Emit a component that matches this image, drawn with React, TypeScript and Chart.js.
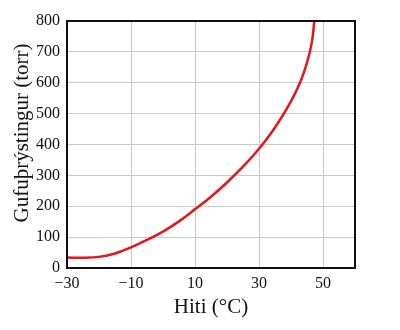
import React, { useEffect, useRef } from "react";
import { Chart, registerables } from "chart.js";

Chart.register(...registerables);

const temperatures = [-30, -25, -20, -15, -10, -5, 0, 5, 10, 15, 20, 25, 30, 35, 40, 43, 45, 46.5, 47.3];
const pressures = [34, 33, 36, 47, 67, 91, 118, 151, 190, 231, 277, 328, 386, 455, 540, 605, 665, 730, 800];
const xTicks = [-30, -10, 10, 30, 50];
const yTicks = [0, 100, 200, 300, 400, 500, 600, 700, 800];
const xTitle = "Hiti (°C)";
const yTitle = "Gufuþrýstingur (torr)";

const SERIF = "'Liberation Serif', 'DejaVu Serif', serif";

const framePlugin = {
  id: "frameAndTitles",
  afterDraw(chart: any) {
    const { ctx, chartArea } = chart;
    ctx.save();
    ctx.strokeStyle = "#111";
    ctx.lineWidth = 2;
    ctx.strokeRect(chartArea.left, chartArea.top, chartArea.right - chartArea.left, chartArea.bottom - chartArea.top);
    ctx.fillStyle = "#111";
    ctx.font = `21px ${SERIF}`;
    ctx.textAlign = "center";
    ctx.textBaseline = "middle";
    ctx.fillText(xTitle, (chartArea.left + chartArea.right) / 2, 307);
    ctx.translate(22, 133);
    ctx.rotate(-Math.PI / 2);
    ctx.fillText(yTitle, 0, 0);
    ctx.restore();
  },
};

export default function App() {
  const ref = useRef<HTMLCanvasElement>(null);
  useEffect(() => {
    if (!ref.current) return;
    const chart = new Chart(ref.current, {
      type: "line",
      data: {
        datasets: [
          {
            data: temperatures.map((t, i) => ({ x: t, y: pressures[i] })),
            borderColor: "#e3161b",
            borderWidth: 2.5,
            pointRadius: 0,
            tension: 0.4,
            fill: false,
          },
        ],
      },
      options: {
        animation: false,
        responsive: false,
        layout: { padding: { top: 21, right: 45, left: 0, bottom: 0 } },
        plugins: { legend: { display: false }, tooltip: { enabled: false } },
        scales: {
          x: {
            type: "linear",
            min: -30,
            max: 60,
            afterBuildTicks: (s: any) => {
              s.ticks = xTicks.map((v) => ({ value: v }));
            },
            afterFit: (s: any) => {
              s.height = 62;
            },
            grid: { color: "#c9c9c9", lineWidth: 1, drawTicks: false },
            border: { display: false },
            ticks: {
              padding: 6,
              color: "#111",
              font: { family: SERIF, size: 16 },
              callback: (v: any) => (Number(v) < 0 ? "\u2212" + Math.abs(Number(v)) : String(v)),
            },
          },
          y: {
            type: "linear",
            min: 0,
            max: 800,
            afterBuildTicks: (s: any) => {
              s.ticks = yTicks.map((v) => ({ value: v }));
            },
            afterFit: (s: any) => {
              s.width = 67;
            },
            grid: { color: "#c9c9c9", lineWidth: 1, drawTicks: false },
            border: { display: false },
            ticks: {
              padding: 7,
              color: "#111",
              font: { family: SERIF, size: 16 },
            },
          },
        },
      },
      plugins: [framePlugin],
    } as any);
    return () => chart.destroy();
  }, []);
  return (
    <div style={{ position: "absolute", left: 0, top: 0, width: 400, height: 330, background: "#fff" }}>
      <canvas ref={ref} width={400} height={330} />
    </div>
  );
}
